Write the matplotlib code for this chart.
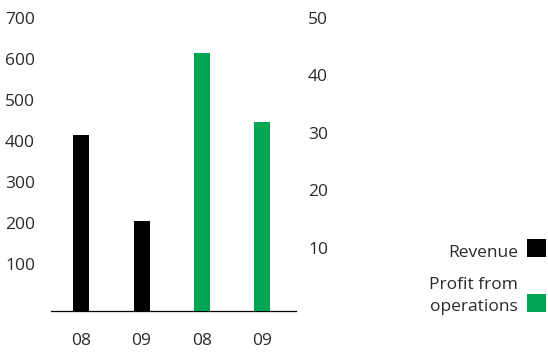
import matplotlib.pyplot as plt
from matplotlib.patches import Rectangle

# ── Data ──────────────────────────────────────────────────────────────────────
years = ["08", "09"]
revenue = [430, 220]
profit = [45, 33]

rev_ticks = [100, 200, 300, 400, 500, 600, 700]
profit_ticks = [10, 20, 30, 40, 50]

C_REV = "#000000"
C_PROF = "#00a651"
C_TXT = "#2a2a2a"
FONT = "Open Sans"
WEIGHT = "normal"
FS = 12.5

W, H, DPI = 548, 352, 100
fig = plt.figure(figsize=(W / DPI, H / DPI), dpi=DPI, facecolor="white")

# axes box in pixel terms: x 51..296, y 24..311 (from top)
ax = fig.add_axes([51 / W, (H - 311) / H, 245 / W, 287 / H])
ax2 = ax.twinx()

pos_rev = [0, 1]
pos_prof = [2, 3]
bw = 0.265

ax.bar(pos_rev, revenue, width=bw, color=C_REV, zorder=3)
ax2.bar(pos_prof, profit, width=bw, color=C_PROF, zorder=3)

ax.set_xlim(-0.5, 3.56)
ax.set_ylim(0, 700)
ax2.set_ylim(0, 50)

for a in (ax, ax2):
    for s in ("top", "left", "right", "bottom"):
        a.spines[s].set_visible(False)
ax.spines["bottom"].set_visible(True)
ax.spines["bottom"].set_linewidth(0.9)
ax.spines["bottom"].set_color("black")

ax.set_yticks(rev_ticks)
ax.set_yticklabels([str(t) for t in rev_ticks])
ax.tick_params(axis="y", length=0, pad=11.5, labelsize=FS, labelcolor=C_TXT)
ax2.set_yticks(profit_ticks)
ax2.set_yticklabels([str(t) for t in profit_ticks])
ax2.tick_params(axis="y", length=0, pad=8.6, labelsize=FS, labelcolor=C_TXT)
for lab in ax.get_yticklabels() + ax2.get_yticklabels():
    lab.set_fontfamily(FONT)
    lab.set_fontweight(WEIGHT)
    lab.set_verticalalignment("baseline")

ax.set_xticks(pos_rev + pos_prof)
ax.set_xticklabels(years + years)
ax.tick_params(axis="x", length=0, pad=16, labelsize=FS, labelcolor=C_TXT)
for lab in ax.get_xticklabels():
    lab.set_fontfamily(FONT)
    lab.set_fontweight(WEIGHT)

# ── Legend (pixel coordinates, origin top-left) ───────────────────────────────
def px(x, y):
    return x / W, (H - y) / H


def swatch(x, y_bottom, color):
    fx, fy = px(x, y_bottom)
    fig.add_artist(Rectangle((fx, fy), 19 / W, 18.5 / H, facecolor=color,
                             edgecolor="none", transform=fig.transFigure))


fig.text(*px(518, 257), "Revenue", ha="right", va="baseline",
         fontsize=FS, color=C_TXT, family=FONT, weight=WEIGHT)
swatch(527, 257, C_REV)
fig.text(*px(518, 311), "Profit from\noperations", ha="right", va="baseline",
         fontsize=FS, color=C_TXT, family=FONT, weight=WEIGHT,
         linespacing=1.5, multialignment="right")
swatch(527, 312, C_PROF)

fig.savefig("out.png", dpi=DPI, facecolor="white")
